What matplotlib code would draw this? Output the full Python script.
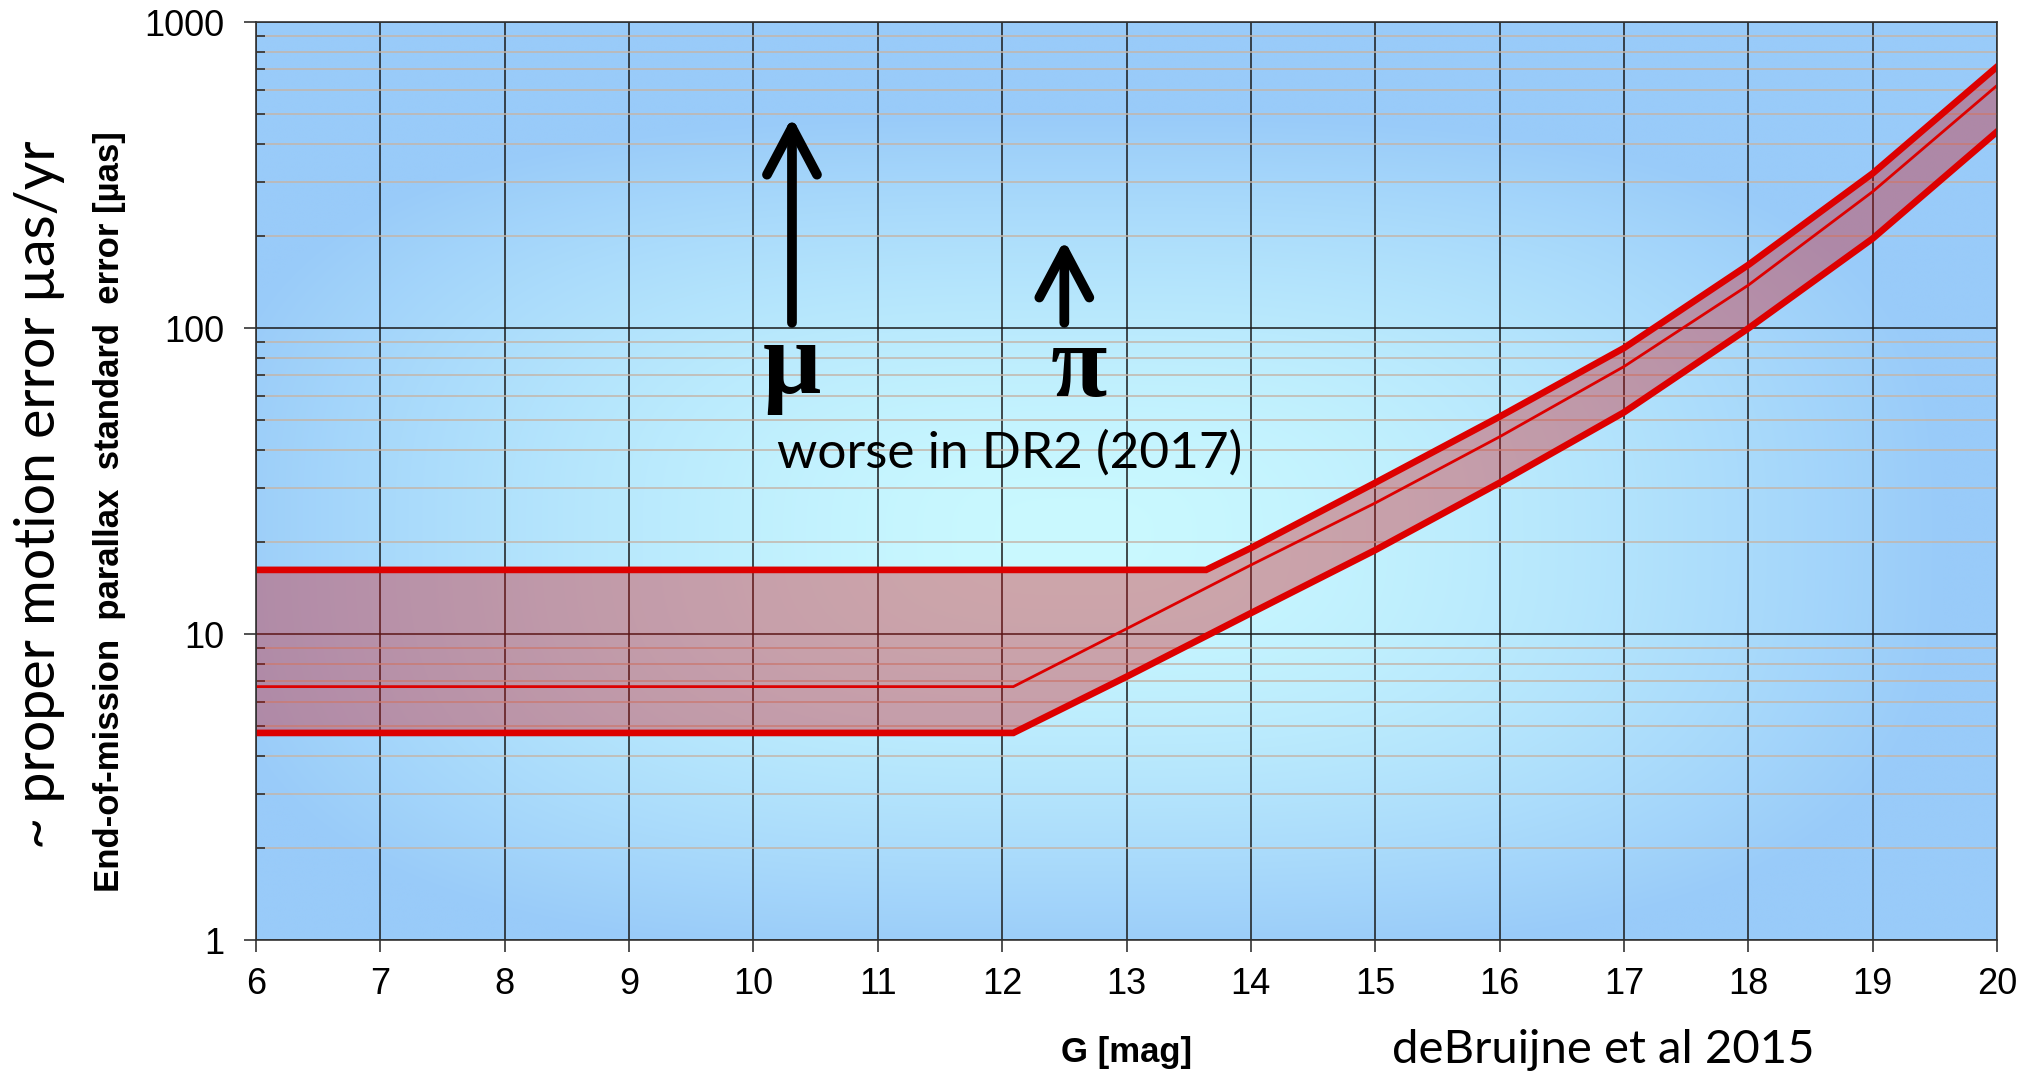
import numpy as np
import matplotlib.pyplot as plt
from matplotlib import ticker

# end-of-mission parallax error band (uas) vs G magnitude
g_upper = [6.0, 13.64, 14, 15, 16, 17, 18, 19, 20]
err_upper = [16.2, 16.2, 19.1, 31.2, 51.3, 86, 160.7, 320, 714]

g_mid = [6.0, 12.09, 13, 14, 15, 16, 17, 18, 19, 20]
err_mid = [6.73, 6.73, 10.4, 16.8, 26.8, 44.1, 74.8, 138, 279, 620]

g_lower = [6.0, 12.09, 13, 14, 15, 16, 17, 18, 19, 20]
err_lower = [4.75, 4.75, 7.25, 11.7, 18.8, 31.2, 53, 99.7, 196, 438]

x_ticks = list(range(6, 21))
y_ticks = [1, 10, 100, 1000]
y_tick_labels = ["1", "10", "100", "1000"]

W, H = 2032, 1073
fig = plt.figure(figsize=(W / 100, H / 100), dpi=100)
ax = fig.add_axes([256 / W, 1 - 940 / H, (1997 - 256) / W, (940 - 22) / H])

# background: light cyan in the middle fading to blue at the edges
nx, ny = 600, 300
xx, yy = np.meshgrid(np.linspace(0, 1, nx), np.linspace(1, 0, ny))
u = np.abs(xx - 0.47) / 0.5
v = np.abs(yy - 0.44) / 0.46
t = np.clip((u ** 3 + v ** 3) ** (1 / 3), 0, 1)
t = t ** 1.6
centre = np.array([202, 249, 255]) / 255
edge = np.array([153, 203, 249]) / 255
bg = centre + (edge - centre) * t[..., None]
ax.imshow(bg, extent=[0, 1, 0, 1], transform=ax.transAxes, aspect="auto",
          zorder=0, interpolation="bilinear")

ax.set_yscale("log")
ax.set_xlim(6, 20)
ax.set_ylim(1, 1000)

# grid
ax.set_axisbelow(True)
ax.grid(True, which="major", axis="both", color="#1a1a1a", lw=1.1, zorder=1)
ax.grid(True, which="minor", axis="y", color="#c4b6aa", lw=1.1, zorder=1)

# band
g_fill = np.union1d(g_upper, g_lower)
up_i = np.interp(g_fill, g_upper, np.log10(err_upper))
lo_i = np.interp(g_fill, g_lower, np.log10(err_lower))
ax.fill_between(g_fill, 10 ** lo_i, 10 ** up_i, color=(0.84, 0.05, 0.06),
                alpha=0.35, lw=0, zorder=2)
ax.plot(g_upper, err_upper, color="#dd0000", lw=4.8, zorder=3,
        solid_joinstyle="miter")
ax.plot(g_lower, err_lower, color="#dd0000", lw=4.8, zorder=3,
        solid_joinstyle="miter")
ax.plot(g_mid, err_mid, color="#dd0000", lw=2.0, zorder=3)

# ticks
ax.set_xticks(x_ticks)
ax.set_yticks(y_ticks)
ax.yaxis.set_major_formatter(ticker.FixedFormatter(y_tick_labels))
ax.yaxis.set_minor_locator(ticker.LogLocator(base=10, subs=np.arange(2, 10)))
ax.yaxis.set_minor_formatter(ticker.NullFormatter())
ax.tick_params(axis="both", which="major", direction="out", length=8.6,
               width=1.1, color="#222222", labelsize=26,
               labelfontfamily="Liberation Sans")
ax.tick_params(axis="x", which="major", pad=11)
ax.tick_params(axis="y", which="major", pad=14)
ax.tick_params(axis="y", which="minor", direction="in", length=6.5,
               width=1.1, color="#222222")
for s in ax.spines.values():
    s.set_color("#333333")
    s.set_linewidth(1.2)
    s.set_zorder(4)

ax.set_xlabel("G [mag]", fontsize=25, fontweight="bold",
              family="Liberation Sans", labelpad=24)

fig.text(110 / W, 1 - 512 / H,
         "End-of-mission  parallax  standard  error [\u00b5as]",
         rotation=90, ha="center", va="center", fontsize=25,
         fontweight="bold", family="Liberation Sans")
fig.text(40 / W, 1 - 495 / H, "~ proper motion error \u00b5as/yr",
         rotation=90, ha="center", va="center", fontsize=40, family="Lato")
fig.text(1603 / W, 1 - 1050 / H, "deBruijne et al 2015", ha="center",
         va="center", fontsize=34, family="Lato")

# annotations: mu and pi arrows
arrow = dict(arrowstyle="->,head_length=0.85,head_width=0.45", lw=7,
             color="black", capstyle="round", joinstyle="round",
             shrinkA=0, shrinkB=0, mutation_scale=40)
ax.annotate("", xy=(10.31, 489), xytext=(10.31, 104), arrowprops=arrow,
            zorder=5)
ax.annotate("", xy=(12.50, 194), xytext=(12.50, 104), arrowprops=arrow,
            zorder=5)
ax.text(10.31, 61.3, "\u03bc", ha="center", va="baseline", fontsize=74,
        fontweight="bold", family="Liberation Serif", zorder=5)
ax.text(12.62, 60, "\u03c0", ha="center", va="baseline", fontsize=74,
        fontweight="bold", family="Liberation Serif", zorder=5)
ax.text(10.19, 34.9, "worse in DR2 (2017)", ha="left", va="baseline",
        fontsize=37, family="Lato", zorder=5)

fig.savefig("out.png", dpi=100)
